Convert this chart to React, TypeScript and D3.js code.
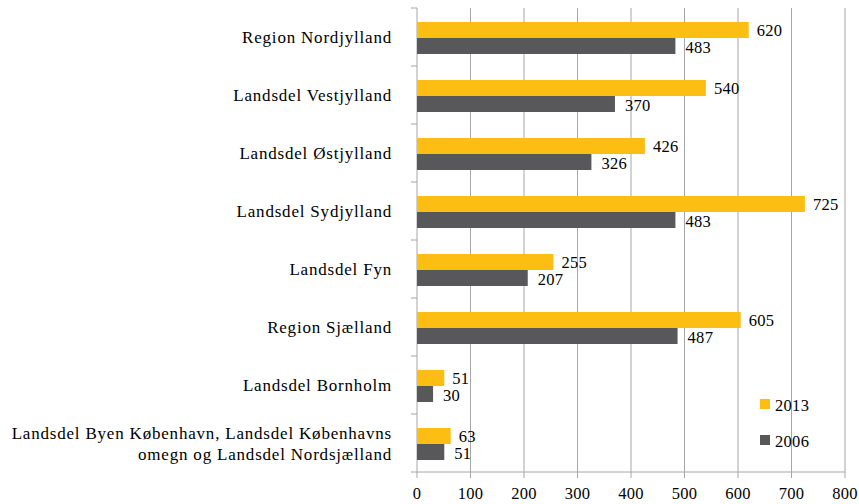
import React from "react";
import * as d3 from "d3";

const categories = [
  ["Region Nordjylland"],
  ["Landsdel Vestjylland"],
  ["Landsdel Østjylland"],
  ["Landsdel Sydjylland"],
  ["Landsdel Fyn"],
  ["Region Sjælland"],
  ["Landsdel Bornholm"],
  ["Landsdel Byen København, Landsdel Københavns", "omegn og Landsdel Nordsjælland"],
];
const values2013 = [620, 540, 426, 725, 255, 605, 51, 63];
const values2006 = [483, 370, 326, 483, 207, 487, 30, 51];
const xTicks = [0, 100, 200, 300, 400, 500, 600, 700, 800];
const seriesNames = ["2013", "2006"];
const colors = ["#FDBE14", "#58585A"];

export default function App() {
  const W = 859, H = 504;
  const left = 417, right = 845, top = 8, bottom = 472;
  const x = d3.scaleLinear().domain([0, 800]).range([left, right]);
  const y = d3.scaleBand().domain(categories.map((_, i) => String(i))).range([top, bottom]);
  const bh = 16;
  const font = "\"Liberation Serif\", \"Times New Roman\", serif";
  const fs = 16.5;
  const grid = "#A6A6A6";
  return (
    <svg width={W} height={H} style={{ position: "absolute", left: 0, top: 0, background: "#fff", fontFamily: font }}>
      {xTicks.map((t) => (
        <g key={t}>
          <line x1={x(t)} x2={x(t)} y1={top} y2={bottom + 6} stroke={grid} strokeWidth={1} />
          <text x={x(t)} y={bottom + 27} textAnchor="middle" fontSize={fs} letterSpacing={0.3} fill="#000">{t}</text>
        </g>
      ))}
      <line x1={left} x2={right} y1={bottom} y2={bottom} stroke={grid} />
      {categories.map((_, i) => (
        <line key={i} x1={left - 6} x2={left} y1={y(String(i))!} y2={y(String(i))!} stroke={grid} />
      ))}
      <line x1={left - 6} x2={left} y1={bottom} y2={bottom} stroke={grid} />
      {categories.map((c, i) => {
        const c0 = y(String(i))! + y.bandwidth() / 2;
        const y13 = c0 - bh + 1;
        const y06 = c0 + 1;
        return (
          <g key={i}>
            <rect x={x(0)} y={y13} width={x(values2013[i]) - x(0)} height={bh} fill={colors[0]} />
            <rect x={x(0)} y={y06} width={x(values2006[i]) - x(0)} height={bh} fill={colors[1]} />
            <text x={x(values2013[i]) + 8} y={y13 + bh / 2 + 6} fontSize={fs} letterSpacing={0.3} fill="#000">{values2013[i]}</text>
            <text x={x(values2006[i]) + 10} y={y06 + bh / 2 + 7} fontSize={fs} letterSpacing={0.3} fill="#000">{values2006[i]}</text>
            {c.map((line, k) => (
              <text key={k} x={392} y={c0 + 6 + (k - (c.length - 1) / 2) * 21} textAnchor="end" fontSize={17} letterSpacing={0.8} fill="#000">{line}</text>
            ))}
          </g>
        );
      })}
      {seriesNames.map((s, k) => (
        <g key={s}>
          <rect x={760} y={399 + k * 36} width={10} height={10} fill={colors[k]} />
          <text x={775} y={411 + k * 36} fontSize={fs} letterSpacing={0.3} fill="#000">{s}</text>
        </g>
      ))}
    </svg>
  );
}
